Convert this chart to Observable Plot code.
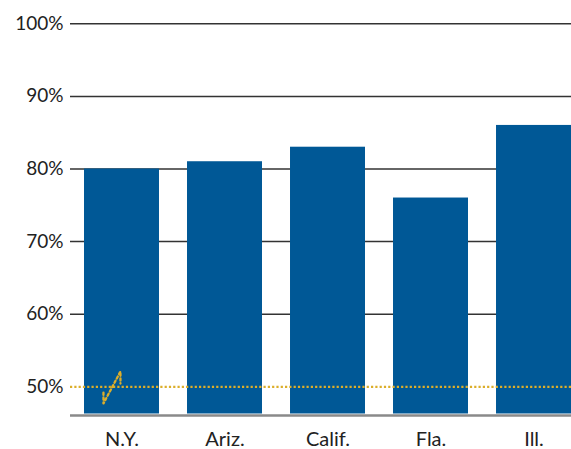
<!DOCTYPE html>
<html>
<head>
<meta charset="utf-8">
<script src="https://cdn.jsdelivr.net/npm/d3@7"></script>
<script src="https://cdn.jsdelivr.net/npm/@observablehq/plot@0.6"></script>
<style>
  html, body { margin: 0; padding: 0; background: #fff; }
</style>
</head>
<body>
<div id="chart"></div>
<script>
const states = ["N.Y.", "Ariz.", "Calif.", "Fla.", "Ill."];
const values = [80, 81, 83, 76, 86];
const yTicks = [50, 60, 70, 80, 90, 100];
const gridTicks = [60, 70, 80, 90, 100];
const reference = 50;
const yMin = 46.25;
// axis-break zigzag drawn on the first bar (data units)
const breakX = [-0.18, -0.18, -0.015, -0.015];
const breakY = [49.2, 47.7, 52.1, 50.45];

const bars = states.map((s, i) => ({state: s, i, value: values[i]}));
const breakPts = breakX.map((x, k) => ({x, y: breakY[k]}));
const half = 0.364;

const chart = Plot.plot({
  width: 571,
  height: 449,
  marginLeft: 70,
  marginRight: 0,
  marginTop: 23.3,
  marginBottom: 35.5,
  style: {fontFamily: "Lato, 'Open Sans', sans-serif", fontSize: "19px", color: "#222", background: "#fff", overflow: "visible"},
  x: {domain: [-0.5, 4 + half], axis: null},
  y: {domain: [yMin, 100], axis: null},
  marks: [
    Plot.ruleY(gridTicks, {stroke: "#333", strokeWidth: 1.5}),
    Plot.rectY(bars, {x1: d => d.i - half, x2: d => d.i + half, y1: yMin, y2: "value", fill: "#005896"}),
    Plot.ruleY([yMin], {stroke: "#8a8a8a", strokeWidth: 2.5, dy: 1.5}),
    Plot.ruleY([reference], {stroke: "#dcae2a", strokeWidth: 2.3, strokeDasharray: "2.2,2.1"}),
    Plot.line(breakPts, {x: "x", y: "y", stroke: "#dcae2a", strokeWidth: 2.3, strokeDasharray: "2.3,2.6"}),
    Plot.axisY(yTicks, {tickFormat: d => d + "%", tickSize: 0, tickPadding: 7, fontSize: 19, anchor: "left", label: null}),
    Plot.axisX(states.map((s, i) => i), {tickFormat: i => states[i], tickSize: 0, tickPadding: 18, fontSize: 20, anchor: "bottom", label: null})
  ]
});
document.getElementById("chart").appendChild(chart);
</script>
</body>
</html>
